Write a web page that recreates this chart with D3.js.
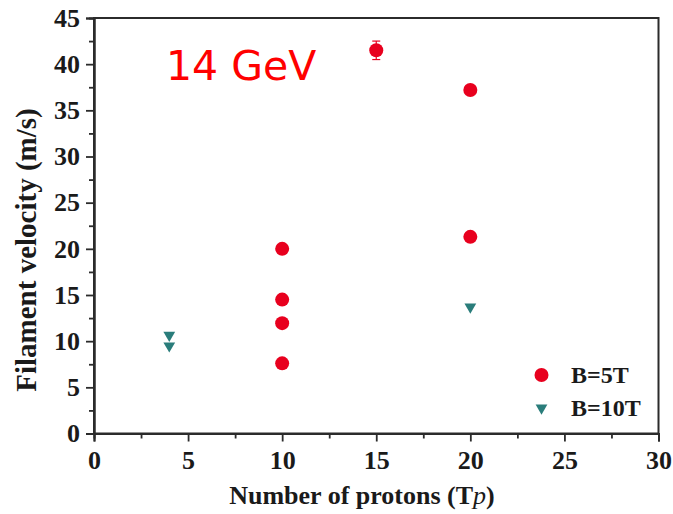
<!DOCTYPE html>
<html>
<head>
<meta charset="utf-8">
<script src="https://cdn.jsdelivr.net/npm/d3@7"></script>
<style>
  html, body { margin: 0; padding: 0; background: #fff; }
  svg { display: block; }
</style>
</head>
<body>
<svg id="chart" width="673" height="514"></svg>
<script>
// ---- Data ----
const seriesNames = ["B=5T", "B=10T"];
const b5x = [15, 20, 20, 10, 10, 10, 10];
const b5y = [41.5, 37.2, 21.3, 20.0, 14.5, 11.95, 7.6];
const b5err = [1.0, 0, 0, 0, 0, 0, 0];
const b10x = [4, 4, 20];
const b10y = [10.65, 9.5, 13.7];
const xTicks = [0, 5, 10, 15, 20, 25, 30];
const yTicks = [0, 5, 10, 15, 20, 25, 30, 35, 40, 45];
const xMinor = [2.5, 7.5, 12.5, 17.5, 22.5, 27.5];
const yMinor = [2.5, 7.5, 12.5, 17.5, 22.5, 27.5, 32.5, 37.5, 42.5];
const annotation = "14 GeV";
const xTitle = "Number of protons (T";
const xTitleItalic = "p";
const yTitle = "Filament velocity (m/s)";

// ---- Layout ----
const svg = d3.select("#chart");
const L = 94, R = 658.5, T = 18, B = 433.5;
const x = d3.scaleLinear().domain([0, 30]).range([L, R]);
const y = d3.scaleLinear().domain([0, 45]).range([B, T]);
const axisColor = "#2b2b2b";
const red = "#e8001e";
const teal = "#2a7d7b";
const serif = "'Liberation Serif', 'Times New Roman', serif";

// frame
svg.append("rect").attr("x", L).attr("y", T).attr("width", R - L).attr("height", B - T)
  .attr("fill", "none").attr("stroke", axisColor).attr("stroke-width", 2);

// axes
const xAxis = d3.axisBottom(x).tickValues(xTicks).tickSize(8).tickPadding(9).tickFormat(d3.format("d"));
svg.append("g").attr("transform", `translate(0,${B})`).call(xAxis);
const yAxis = d3.axisLeft(y).tickValues(yTicks).tickSize(8).tickPadding(6).tickFormat(d3.format("d"));
svg.append("g").attr("transform", `translate(${L},0)`).call(yAxis);
svg.append("g").attr("transform", `translate(0,${B})`)
  .call(d3.axisBottom(x).tickValues(xMinor).tickSize(5).tickFormat(""));
svg.append("g").attr("transform", `translate(${L},0)`)
  .call(d3.axisLeft(y).tickValues(yMinor).tickSize(5).tickFormat(""));
svg.selectAll(".domain").attr("stroke", axisColor).attr("stroke-width", 2);
svg.selectAll(".tick line").attr("stroke", axisColor).attr("stroke-width", 1.8);
svg.selectAll(".tick text").attr("font-family", serif).attr("font-weight", "bold")
  .attr("font-size", 26).attr("fill", "#1a1a1a");

// axis titles
const xt = svg.append("text").attr("x", 362).attr("y", 504)
  .attr("text-anchor", "middle").attr("font-family", serif).attr("font-weight", "bold")
  .attr("font-size", 26).attr("fill", "#1a1a1a");
xt.append("tspan").text(xTitle);
xt.append("tspan").attr("font-style", "italic").attr("font-weight", "normal").text(xTitleItalic);
xt.append("tspan").text(")");

svg.append("text").attr("transform", `translate(36,250) rotate(-90)`)
  .attr("text-anchor", "middle").attr("font-family", serif).attr("font-weight", "bold")
  .attr("font-size", 29).attr("fill", "#1a1a1a").text(yTitle);

// annotation
svg.append("text").attr("x", 166).attr("y", 80)
  .attr("font-family", "'Comic Sans MS', 'DejaVu Sans', sans-serif")
  .attr("font-size", 41).attr("fill", "#ff0000").text(annotation);

// B=5T points
const b5 = b5x.map((v, i) => ({ x: v, y: b5y[i], e: b5err[i] }));
const eb = b5.filter(d => d.e > 0);
const ebG = svg.append("g").attr("stroke", red).attr("stroke-width", 1.2);
ebG.selectAll("line.v").data(eb).join("line")
  .attr("x1", d => x(d.x)).attr("x2", d => x(d.x))
  .attr("y1", d => y(d.y - d.e)).attr("y2", d => y(d.y + d.e));
ebG.selectAll("line.t").data(eb).join("line")
  .attr("x1", d => x(d.x) - 4).attr("x2", d => x(d.x) + 4)
  .attr("y1", d => y(d.y + d.e)).attr("y2", d => y(d.y + d.e));
ebG.selectAll("line.b").data(eb).join("line")
  .attr("x1", d => x(d.x) - 4).attr("x2", d => x(d.x) + 4)
  .attr("y1", d => y(d.y - d.e)).attr("y2", d => y(d.y - d.e));

svg.append("g").selectAll("circle").data(b5).join("circle")
  .attr("cx", d => x(d.x)).attr("cy", d => y(d.y)).attr("r", 7).attr("fill", red);

// B=10T points
const b10 = b10x.map((v, i) => ({ x: v, y: b10y[i] }));
const tri = d3.symbol().type(d3.symbolTriangle).size(60);
svg.append("g").selectAll("path").data(b10).join("path")
  .attr("d", tri)
  .attr("transform", d => `translate(${x(d.x)},${y(d.y)}) rotate(180)`)
  .attr("fill", teal);

// legend
const leg = svg.append("g");
leg.append("circle").attr("cx", 541.5).attr("cy", 375).attr("r", 7).attr("fill", red);
leg.append("path").attr("d", tri).attr("transform", "translate(541.5,408) rotate(180)").attr("fill", teal);
leg.selectAll("text").data(seriesNames).join("text")
  .attr("x", 571).attr("y", (d, i) => 383 + i * 33)
  .attr("font-family", serif).attr("font-weight", "bold").attr("font-size", 24)
  .attr("fill", "#1a1a1a").text(d => d);
</script>
</body>
</html>
